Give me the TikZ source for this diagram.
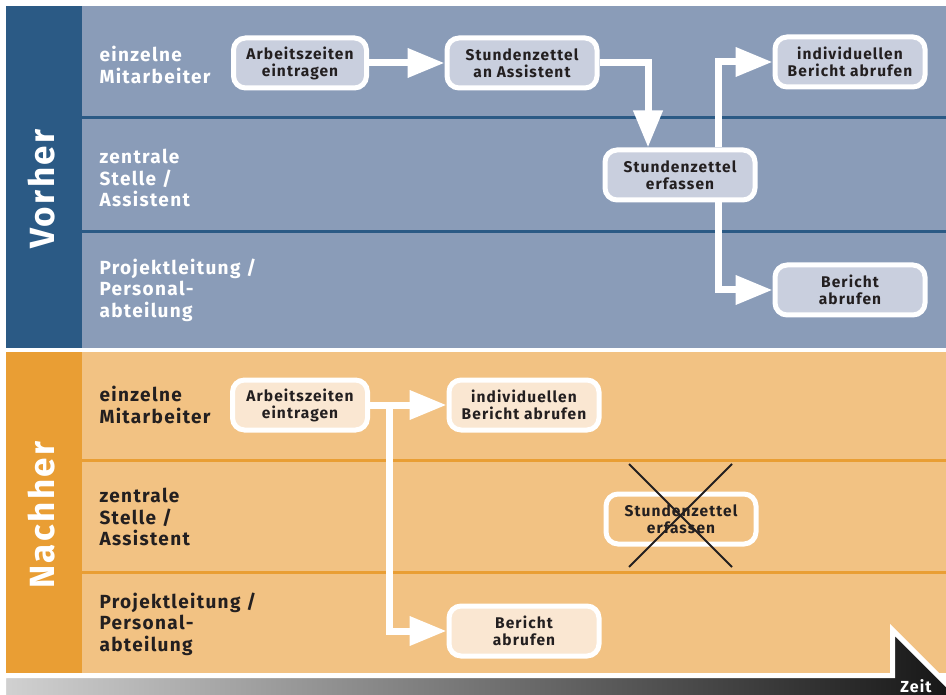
\documentclass[tikz,border=0pt]{standalone}
\usepackage{fontspec}
\setmainfont{Fira Sans}[LetterSpace=7]
\usetikzlibrary{arrows.meta,positioning}
\definecolor{lane blue}{HTML}{8A9CB8}
\definecolor{side blue}{HTML}{2B5A85}
\definecolor{task blue}{HTML}{C9CFDE}
\definecolor{lane orange}{HTML}{F2C283}
\definecolor{side orange}{HTML}{E99E34}
\definecolor{task orange}{HTML}{FAE7D2}
\definecolor{ink}{HTML}{231F20}
\tikzset{task/.style={draw=white, line width=5pt, rounded corners=12pt,
        minimum width=150pt, minimum height=50pt, align=center, text=ink,
        font=\fontsize{15.5}{17}\selectfont\bfseries, inner sep=2pt},
    flow/.style={draw=white, line width=7pt, -{Triangle[length=37pt,width=28pt]}},
    lane/.style={anchor=west, align=left, font=\fontsize{19}{21.5}\selectfont\bfseries},
    phase/.style={rotate=90, text=white, font=\fontsize{35}{35}\selectfont\bfseries},
    cross/.style={draw=ink, line width=2pt}}

\begin{document}
\begin{tikzpicture}[x=1pt, y=-1pt]
    \useasboundingbox (0,0) rectangle (946,695);
    % vorher
    \fill[lane blue] (6,6) rectangle (946,348);
    \fill[side blue] (6,6) rectangle (82,348);
    \draw[side blue, line width=3pt] (82,118) -- (946,118) (82,232) -- (946,232);
    \node[phase] (vorher) at (42,189) {Vorher};
    \node[lane, text=white] (lv1) at (96,65)  {einzelne\\Mitarbeiter};
    \node[lane, text=white] (lv2) at (96,178) {zentrale\\Stelle /\\Assistent};
    \node[lane, text=white] (lv3) at (96,290) {Projektleitung /\\Personal-\\abteilung};
    % nachher
    \fill[lane orange] (6,352) rectangle (946,673);
    \fill[side orange] (6,352) rectangle (82,673);
    \draw[side orange, line width=3pt] (82,460) -- (946,460) (82,572) -- (946,572);
    \node[phase] (nachher) at (42,515) {Nachher};
    \node[lane, text=ink] (ln1) at (96,405) {einzelne\\Mitarbeiter};
    \node[lane, text=ink] (ln2) at (96,517) {zentrale\\Stelle /\\Assistent};
    \node[lane, text=ink] (ln3) at (96,624) {Projektleitung /\\Personal-\\abteilung};
    % zeit
    \begin{scope}
        \clip (0,0) rectangle (946,695);
        \shade[left color=black!18, right color=black!92, draw=white, line width=5pt]
            (3.5,675.5) -- (892.5,675.5) -- (892.5,630) -- (962,699.5)
            -- (892.5,769) -- (892.5,730) -- (3.5,730) -- cycle;
    \end{scope}
    \node[text=white, font=\fontsize{16}{16}\selectfont\bfseries] (zeit) at (916,686) {Zeit};
    % vorher tasks
    \node[task, fill=task blue, minimum width=133pt] (a1) at (300,63) {Arbeitszeiten\\eintragen};
    \node[task, fill=task blue] (a2) at (522,63) {Stundenzettel\\an Assistent};
    \node[task, fill=task blue] (a3) at (680,175) {Stundenzettel\\erfassen};
    \node[task, fill=task blue] (a4) at (850,62) {individuellen\\Bericht abrufen};
    \node[task, fill=task blue] (a5) at (850,290) {Bericht\\abrufen};
    \draw[flow] (a1) -- (a2);
    \draw[flow] (a2.east) -| ([xshift=-32pt]a3.north);
    \draw[flow] ([xshift=38pt]a3.north) |- (a4.west);
    \draw[flow] ([xshift=38pt]a3.south) |- (a5.west);
    % nachher tasks
    \node[task, fill=task orange, minimum width=135pt] (b1) at (300,405) {Arbeitszeiten\\eintragen};
    \node[task, fill=task orange] (b2) at (524,405) {individuellen\\Bericht abrufen};
    \node[task] (b3) at (681,519) {Stundenzettel\\erfassen};
    \node[task, fill=task orange] (b4) at (524,631) {Bericht\\abrufen};
    \draw[flow] (b1) -- (b2);
    \draw[flow] (b1.east) -- ++(19,0) |- (b4.west);
    \draw[cross] (629,464) -- (732,567) (732,464) -- (629,567);
\end{tikzpicture}
\end{document}
